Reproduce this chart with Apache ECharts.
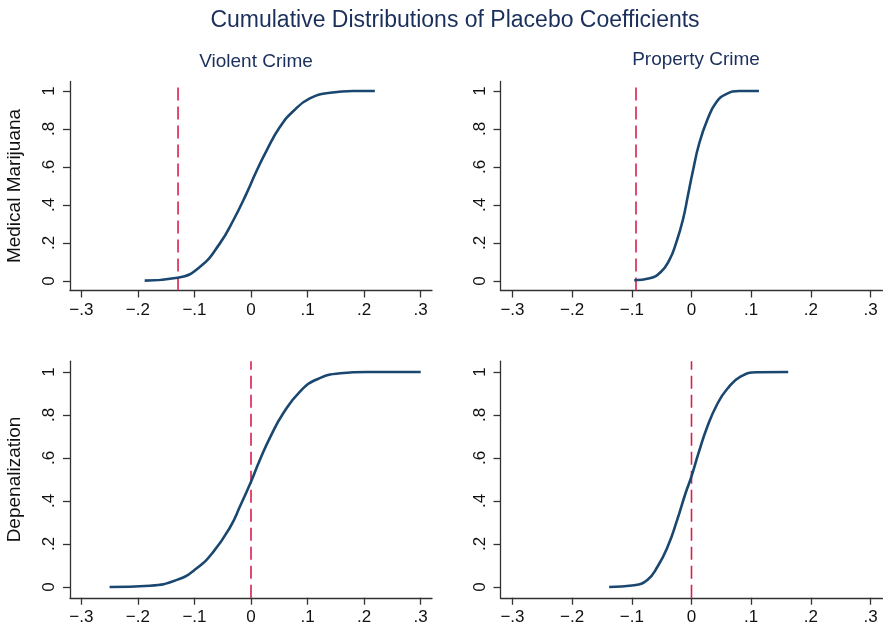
<!DOCTYPE html>
<html>
<head>
<meta charset="utf-8">
<script src="https://cdn.jsdelivr.net/npm/echarts@6/dist/echarts.min.js"></script>
<style>html,body{margin:0;padding:0;background:#fff;}#c{width:883px;height:629px;}</style>
</head>
<body>
<div id="c"></div>
<script>
// ---- data ----
const mainTitle = 'Cumulative Distributions of Placebo Coefficients';
const columnTitles = ['Violent Crime', 'Property Crime'];
const rowTitles = ['Medical Marijuana', 'Depenalization'];
const xTicks = [-0.3, -0.2, -0.1, 0, 0.1, 0.2, 0.3];
const xTickLabels = ['\u2212.3', '\u2212.2', '\u2212.1', '0', '.1', '.2', '.3'];
const yTicks = [0, 0.2, 0.4, 0.6, 0.8, 1];
const yTickLabels = ['0', '.2', '.4', '.6', '.8', '1'];

// actual estimates (vertical dashed lines): [MM-violent, MM-property, Dep-violent, Dep-property]
const actualCoef = [-0.129, -0.093, 0.0, 0.0];

// CDF curves: coefficient values and cumulative shares
const mmViolentX = [-0.188, -0.130, -0.090, -0.055, -0.031, -0.008, 0.010, 0.028, 0.051, 0.075, 0.104, 0.140, 0.181, 0.219];
const mmViolentY = [0.002, 0.017, 0.075, 0.198, 0.321, 0.460, 0.580, 0.689, 0.810, 0.895, 0.961, 0.991, 1.0, 1.0];

const mmPropertyX = [-0.096, -0.070, -0.051, -0.037, -0.026, -0.0145, -0.006, 0.002, 0.013, 0.027, 0.041, 0.058, 0.080, 0.113];
const mmPropertyY = [0.004, 0.014, 0.049, 0.111, 0.198, 0.321, 0.450, 0.574, 0.725, 0.852, 0.938, 0.984, 1.0, 1.0];

const depViolentX = [-0.250, -0.179, -0.131, -0.096, -0.067, -0.037, -0.019, 0.0, 0.016, 0.034, 0.057, 0.087, 0.116, 0.158, 0.205, 0.300];
const depViolentY = [0.0, 0.006, 0.033, 0.087, 0.162, 0.278, 0.378, 0.490, 0.593, 0.697, 0.808, 0.910, 0.965, 0.994, 1.0, 1.0];

const depPropertyX = [-0.138, -0.096, -0.074, -0.057, -0.040, -0.024, -0.010, 0.0, 0.012, 0.026, 0.043, 0.060, 0.082, 0.110, 0.162];
const depPropertyY = [0.0, 0.008, 0.033, 0.094, 0.187, 0.312, 0.436, 0.515, 0.625, 0.742, 0.850, 0.922, 0.978, 0.999, 1.0];

const curves = [[mmViolentX, mmViolentY], [mmPropertyX, mmPropertyY], [depViolentX, depViolentY], [depPropertyX, depPropertyY]];

// ---- chart ----
const FONT = 'Liberation Sans, Arial, Helvetica, sans-serif';
const AXIS_COLOR = '#333333';
const NAVY = '#1a2f5c';
const CURVE = '#1a476f';
const RED = '#d81e4f';

function lab(ticks, labels) {
  return function (v) {
    for (let i = 0; i < ticks.length; i++) if (Math.abs(v - ticks[i]) < 1e-6) return labels[i];
    return '';
  };
}

const grids = [
  { left: 70, top: 81.5, width: 362, height: 209 },
  { left: 500.5, top: 81.5, width: 382, height: 209 },
  { left: 70, top: 361.25, width: 362, height: 236.5 },
  { left: 500.5, top: 361.25, width: 382, height: 236.5 }
];

const xAxes = grids.map((g, i) => ({
  type: 'value', gridIndex: i, min: -0.32, max: 0.32,
  axisLine: { show: true, onZero: false, lineStyle: { color: AXIS_COLOR, width: 1.3 } },
  axisTick: { show: true, length: 7, customValues: xTicks, lineStyle: { color: AXIS_COLOR, width: 1.3 } },
  axisLabel: { customValues: xTicks, formatter: lab(xTicks, xTickLabels), color: '#111', fontFamily: FONT, fontSize: 17, margin: 11 },
  splitLine: { show: false }
}));

const yAxes = grids.map((g, i) => ({
  type: 'value', gridIndex: i, min: -0.05, max: 1.05,
  name: (i % 2 === 0) ? rowTitles[i / 2] : '',
  nameLocation: 'middle', nameRotate: 90, nameGap: 46,
  nameTextStyle: { color: '#111', fontFamily: FONT, fontSize: 19 },
  axisLine: { show: true, onZero: false, lineStyle: { color: AXIS_COLOR, width: 1.3 } },
  axisTick: { show: true, length: 7, customValues: yTicks, lineStyle: { color: AXIS_COLOR, width: 1.3 } },
  axisLabel: { customValues: yTicks, formatter: lab(yTicks, yTickLabels), rotate: 90, color: '#111', fontFamily: FONT, fontSize: 17, margin: 12 },
  splitLine: { show: false }
}));

const series = [];
curves.forEach((c, i) => {
  series.push({
    type: 'line', xAxisIndex: i, yAxisIndex: i,
    data: c[0].map((x, k) => [x, c[1][k]]),
    smooth: 0.5, showSymbol: false, symbol: 'none',
    lineStyle: { color: CURVE, width: 2.6 }, z: 3, silent: true
  });
  series.push({
    type: 'line', xAxisIndex: i, yAxisIndex: i,
    data: [[actualCoef[i], -0.05], [actualCoef[i], 1.05]],
    showSymbol: false, symbol: 'none',
    lineStyle: { color: RED, width: 1.6, type: [13, 6] }, z: 2, silent: true
  });
});

const chart = echarts.init(document.getElementById('c'), null, { renderer: 'canvas' });
chart.setOption({
  animation: false,
  backgroundColor: '#ffffff',
  title: [
    { text: mainTitle, left: 450, top: 4, textAlign: 'center', textStyle: { color: NAVY, fontFamily: FONT, fontSize: 23, fontWeight: 'normal' } },
    { text: columnTitles[0], left: 251, top: 47, textAlign: 'center', textStyle: { color: NAVY, fontFamily: FONT, fontSize: 19, fontWeight: 'normal' } },
    { text: columnTitles[1], left: 691, top: 45, textAlign: 'center', textStyle: { color: NAVY, fontFamily: FONT, fontSize: 19, fontWeight: 'normal' } }
  ],
  grid: grids,
  xAxis: xAxes,
  yAxis: yAxes,
  series: series
});
</script>
</body>
</html>
